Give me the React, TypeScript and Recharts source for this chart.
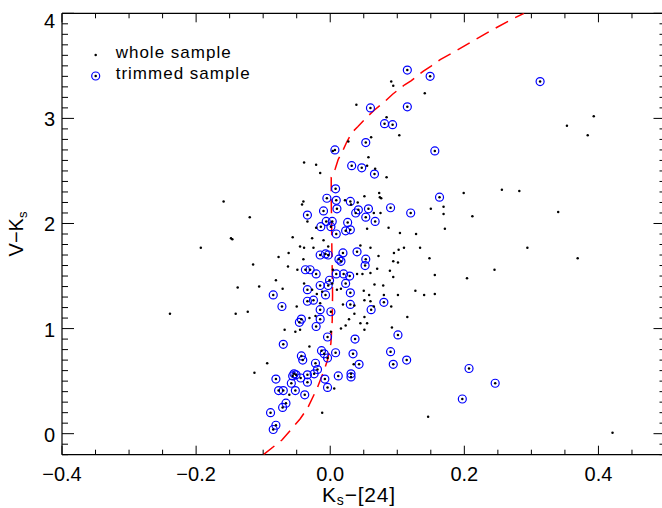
import React from "react";
import { ScatterChart, Scatter, XAxis, YAxis, Customized } from "recharts";

const FONT = '"Liberation Sans", Arial, Helvetica, sans-serif';

// trimmed sample (circled), Ks-[24] vs V-Ks
const trimmedX = [
  0.313, 0.115, 0.149, 0.06, 0.115, 0.081, 0.093, 0.053, 0.156, 0.007,
  0.032, 0.047, 0.066, 0.008, 0.163, 0.009, 0.03, 0.09, 0.01, 0.042,
  0.057, 0.12, 0.038, 0.053, 0.067, 0.026, 0.003, 0.023, 0.03, 0.009,
  -0.005, -0.01, -0.034, -0.006, -0.014, 0.001, 0.019, 0.04, 0.053, 0.052,
  0.013, 0.016, -0.015, -0.007, -0.003, -0.037, -0.03, -0.021, 0.009, 0.02,
  0.029, -0.001, 0.023, -0.015, -0.003, -0.085, -0.034, -0.007, 0.03, -0.034,
  -0.025, -0.072, -0.015, 0.001, 0.03, 0.08, 0.061, -0.043, -0.046, -0.015,
  -0.021, -0.004, 0.037, 0.101, -0.07, -0.043, -0.041, -0.013, -0.009, -0.004,
  0.008, 0.034, 0.043, 0.09, 0.094, 0.114, -0.022, -0.019, -0.024, -0.034,
  -0.054, -0.051, -0.056, -0.044, -0.081, -0.008, -0.034, -0.058, -0.004, -0.077,
  -0.07, -0.052, -0.038, -0.066, -0.071, -0.089, -0.081, -0.085, 0.012, 0.031,
  0.031, 0.207, 0.246, 0.197,
];
const trimmedY = [
  3.35, 3.46, 3.4, 3.1, 3.11, 2.95, 2.94, 2.77, 2.69, 2.7,
  2.55, 2.53, 2.47, 2.33, 2.25, 2.22, 2.21, 2.15, 2.14, 2.13,
  2.14, 2.1, 2.1, 2.06, 2.02, 2.01, 2.02, 1.93, 1.94, 1.9,
  2.24, 2.12, 2.08, 2.02, 1.97, 1.97, 1.72, 1.73, 1.66, 1.6,
  1.66, 1.64, 1.7, 1.71, 1.7, 1.56, 1.56, 1.52, 1.52, 1.52,
  1.5, 1.46, 1.43, 1.41, 1.41, 1.32, 1.37, 1.32, 1.34, 1.26,
  1.27, 1.21, 1.18, 1.16, 1.23, 1.25, 1.18, 1.09, 1.06, 1.09,
  1.02, 0.92, 0.9, 0.94, 0.85, 0.74, 0.7, 0.79, 0.76, 0.72,
  0.77, 0.76, 0.66, 0.78, 0.66, 0.7, 0.67, 0.61, 0.57, 0.56,
  0.57, 0.56, 0.55, 0.53, 0.52, 0.52, 0.49, 0.48, 0.44, 0.41,
  0.41, 0.41, 0.37, 0.29, 0.25, 0.2, 0.08, 0.04, 0.55, 0.57,
  0.54, 0.62, 0.48, 0.33,
];

// remaining points of the whole sample (not circled)
const restX = [
  -0.039, -0.021, -0.015, -0.159, -0.04, -0.042, -0.12, -0.034, -0.021, -0.148,
  -0.146, -0.056, -0.027, -0.01, -0.193, -0.045, -0.039, -0.025, -0.003, -0.062,
  -0.077, -0.04, -0.115, -0.063, -0.049, -0.081, -0.138, -0.106, -0.071, -0.039,
  -0.027, -0.02, -0.012, -0.015, -0.05, -0.239, -0.141, -0.123, -0.031, -0.022,
  -0.068, -0.052, -0.045, 0.001, -0.031, -0.094, -0.113, -0.012, -0.061,
  0.091, 0.094, 0.141, 0.039, 0.393, 0.084, 0.353, 0.384, 0.103, 0.061,
  0.027, 0.004, 0.057, 0.055, 0.067, 0.084, 0.256, 0.282, 0.199, 0.073,
  0.051, 0.074, 0.076, 0.022, 0.041, 0.031, 0.169, 0.15, 0.34, 0.169,
  0.075, 0.065, 0.212, 0.055, 0.087, 0.104, 0.128, 0.171, 0.045, 0.06,
  0.095, 0.102, 0.11, 0.134, 0.072, 0.148, 0.294, 0.369, 0.094, 0.101,
  0.07, 0.06, 0.089, 0.094, 0.048, 0.04, 0.156, 0.245, 0.204, 0.066,
  0.079, 0.003, 0.004, 0.01, 0.016, 0.05, 0.058, 0.08, 0.101, 0.127,
  0.14, 0.156, 0.019, 0.036, 0.051, 0.06, 0.091, 0.065, 0.036, 0.028,
  0.051, 0.055, 0.045, 0.115, 0.023, 0.016, 0.051, 0.092, 0.035, 0.006,
  0.146, 0.421,
];
const restY = [
  2.58, 2.56, 2.48, 2.21, 2.21, 2.18, 2.06, 2.02, 1.96, 1.86,
  1.85, 1.87, 1.86, 1.84, 1.77, 1.78, 1.77, 1.77, 1.78, 1.72,
  1.68, 1.66, 1.61, 1.59, 1.56, 1.46, 1.39, 1.4, 1.38, 1.43,
  1.37, 1.33, 1.35, 1.24, 1.21, 1.14, 1.14, 1.16, 1.1, 1.12,
  0.99, 0.97, 0.99, 0.97, 0.83, 0.67, 0.58, 0.2, 0.37,
  3.35, 3.31, 3.24, 3.13, 3.02, 3.01, 2.93, 2.84, 2.84, 2.82,
  2.78, 2.69, 2.63, 2.55, 2.52, 2.44, 2.32, 2.31, 2.29, 2.29,
  2.26, 2.25, 2.24, 2.22, 2.2, 2.18, 2.16, 2.14, 2.11, 2.09,
  2.1, 2.1, 2.07, 1.95, 1.96, 1.91, 1.9, 1.95, 1.79, 1.77,
  1.72, 1.75, 1.77, 1.77, 1.69, 1.67, 1.77, 1.67, 1.64, 1.63,
  1.57, 1.53, 1.55, 1.49, 1.52, 1.52, 1.51, 1.56, 1.48, 1.42,
  1.41, 1.43, 1.56, 1.37, 1.38, 1.36, 1.32, 1.32, 1.32, 1.36,
  1.32, 1.33, 1.23, 1.22, 1.27, 1.26, 1.21, 1.21, 1.14, 1.09,
  1.11, 1.05, 1.05, 1.11, 1.03, 1.0, 0.99, 1.01, 0.66, 0.43,
  0.16, 0.01,
];

// red dashed model curve
const curveX = [
  -0.0996, -0.072, -0.057, -0.045, -0.034, -0.019, -0.01, -0.004, 0.001, 0.003,
  0.0035, 0.003, 0.0025, 0.002, 0.0015, 0.0015, 0.0075, 0.012, 0.02, 0.025,
  0.033, 0.041, 0.056, 0.066, 0.083, 0.093, 0.111, 0.121, 0.139, 0.151,
  0.164, 0.187, 0.211, 0.241, 0.27, 0.289,
];
const curveY = [
  -0.2, -0.06, 0.05, 0.14, 0.24, 0.44, 0.59, 0.7, 0.86, 1.08,
  1.32, 1.55, 1.73, 2.03, 2.25, 2.44, 2.52, 2.61, 2.71, 2.78,
  2.87, 2.92, 3.02, 3.08, 3.17, 3.23, 3.32, 3.36, 3.45, 3.5,
  3.56, 3.64, 3.73, 3.84, 3.94, 4.0,
];

const xTicks = [
  -0.4, -0.35, -0.3, -0.25, -0.2, -0.15, -0.1, -0.05, 0, 0.05,
  0.1, 0.15, 0.2, 0.25, 0.3, 0.35, 0.4, 0.45, 0.5,
];
const xMajor = [-0.4, -0.2, 0, 0.2, 0.4];
const xLabels = ["\u22120.4", "\u22120.2", "0.0", "0.2", "0.4"];
const yTicks = [
  -0.2, -0.1, 0, 0.1, 0.2, 0.3, 0.4, 0.5, 0.6, 0.7, 0.8, 0.9, 1,
  1.1, 1.2, 1.3, 1.4, 1.5, 1.6, 1.7, 1.8, 1.9, 2, 2.1, 2.2, 2.3, 2.4,
  2.5, 2.6, 2.7, 2.8, 2.9, 3, 3.1, 3.2, 3.3, 3.4, 3.5, 3.6, 3.7, 3.8,
  3.9, 4,
];
const yMajor = [0, 1, 2, 3, 4];
const yLabels = ["0", "1", "2", "3", "4"];

const pts = (xs: number[], ys: number[]) => xs.map((x, i) => ({ x, y: ys[i] }));
const trimmed = pts(trimmedX, trimmedY);
const whole = [...pts(restX, restY), ...trimmed];
const curve = pts(curveX, curveY);

const majorIndex = (v: number, list: number[]) =>
  list.findIndex((m) => Math.abs(m - v) < 1e-6);

const BottomTick = (p: any) => {
  const { x, y, payload } = p;
  const i = majorIndex(payload.value, xMajor);
  return (
    <g>
      <line x1={x} x2={x} y1={y} y2={y - (i >= 0 ? 9 : 5)} stroke="#000" />
      {i >= 0 && (
        <text x={x} y={y + 26} textAnchor="middle" fontSize={20} fontFamily={FONT} fill="#000">
          {xLabels[i]}
        </text>
      )}
    </g>
  );
};

const TopTick = (p: any) => {
  const { x, y, payload } = p;
  const i = majorIndex(payload.value, xMajor);
  return <line x1={x} x2={x} y1={y} y2={y + (i >= 0 ? 9 : 5)} stroke="#000" />;
};

const LeftTick = (p: any) => {
  const { x, y, payload } = p;
  const i = majorIndex(payload.value, yMajor);
  return (
    <g>
      <line x1={x} x2={x + (i >= 0 ? 12 : 6)} y1={y} y2={y} stroke="#000" />
      {i >= 0 && (
        <text x={x - 7} y={Math.max(y + 8, 28)} textAnchor="end" fontSize={20} fontFamily={FONT} fill="#000">
          {yLabels[i]}
        </text>
      )}
    </g>
  );
};

const RightTick = (p: any) => {
  const { x, y, payload } = p;
  const i = majorIndex(payload.value, yMajor);
  return <line x1={x} x2={x - (i >= 0 ? 12 : 6)} y1={y} y2={y} stroke="#000" />;
};

const BlackDot = (p: any) => <circle cx={p.cx} cy={p.cy} r={1.25} fill="#000" />;
const BlueRing = (p: any) => (
  <circle cx={p.cx} cy={p.cy} r={4} fill="none" stroke="#0000ff" strokeWidth={1.2} />
);
const NoMark = () => <g />;

const Overlay = () => (
  <g fontFamily={FONT} fill="#000">
    <circle cx={95.7} cy={55} r={1.25} fill="#000" />
    <text x={115.7} y={58.3} fontSize={17} letterSpacing={1}>
      whole sample
    </text>
    <circle cx={95.7} cy={76} r={4} fill="none" stroke="#0000ff" strokeWidth={1.2} />
    <circle cx={95.7} cy={76} r={1.25} fill="#000" />
    <text x={115.7} y={79.3} fontSize={17} letterSpacing={1}>
      trimmed sample
    </text>
    <text x={322} y={502} fontSize={21} letterSpacing={0.8}>
      K<tspan fontSize={14} dy={3}>s</tspan>
      <tspan dy={-3}>{"\u2212[24]"}</tspan>
    </text>
    <text x={23} y={234} fontSize={20} textAnchor="middle" transform="rotate(-90 23 234)">
      V{"\u2212"}K<tspan fontSize={13} dy={4}>s</tspan>
    </text>
  </g>
);

const axisLine = { stroke: "#000", strokeWidth: 1.2 };

export default function App() {
  return (
    <div style={{ position: "absolute", left: 0, top: 0, width: 662, height: 508, overflow: "hidden", background: "#fff" }}>
      <ScatterChart
        width={670}
        height={508}
        margin={{ top: 12.3, left: 61, right: 3.5, bottom: 52.3 }}
      >
        <XAxis
          xAxisId="b"
          type="number"
          dataKey="x"
          domain={[-0.4, 0.5]}
          allowDataOverflow
          ticks={xTicks}
          interval={0}
          height={1}
          tickSize={0}
          tickMargin={0}
          tickLine={false}
          tick={BottomTick}
          axisLine={axisLine}
        />
        <XAxis
          xAxisId="t"
          orientation="top"
          type="number"
          dataKey="x"
          domain={[-0.4, 0.5]}
          allowDataOverflow
          ticks={xTicks}
          interval={0}
          height={1}
          tickSize={0}
          tickMargin={0}
          tickLine={false}
          tick={TopTick}
          axisLine={axisLine}
        />
        <YAxis
          yAxisId="l"
          type="number"
          dataKey="y"
          domain={[-0.2, 4]}
          allowDataOverflow
          ticks={yTicks}
          interval={0}
          width={1}
          tickSize={0}
          tickMargin={0}
          tickLine={false}
          tick={LeftTick}
          axisLine={axisLine}
        />
        <YAxis
          yAxisId="r"
          orientation="right"
          type="number"
          dataKey="y"
          domain={[-0.2, 4]}
          allowDataOverflow
          ticks={yTicks}
          interval={0}
          width={1}
          tickSize={0}
          tickMargin={0}
          tickLine={false}
          tick={RightTick}
          axisLine={axisLine}
        />
        <Scatter
          data={curve}
          xAxisId="b"
          yAxisId="l"
          shape={NoMark}
          line={{ stroke: "#ff0000", strokeWidth: 1.5, strokeDasharray: "14 8" }}
          lineJointType="linear"
          isAnimationActive={false}
        />
        <Scatter data={trimmed} xAxisId="b" yAxisId="l" shape={BlueRing} isAnimationActive={false} />
        <Scatter data={whole} xAxisId="b" yAxisId="l" shape={BlackDot} isAnimationActive={false} />
        <Scatter data={whole} xAxisId="t" yAxisId="r" shape={NoMark} isAnimationActive={false} />
        <Customized component={Overlay} />
      </ScatterChart>
    </div>
  );
}
